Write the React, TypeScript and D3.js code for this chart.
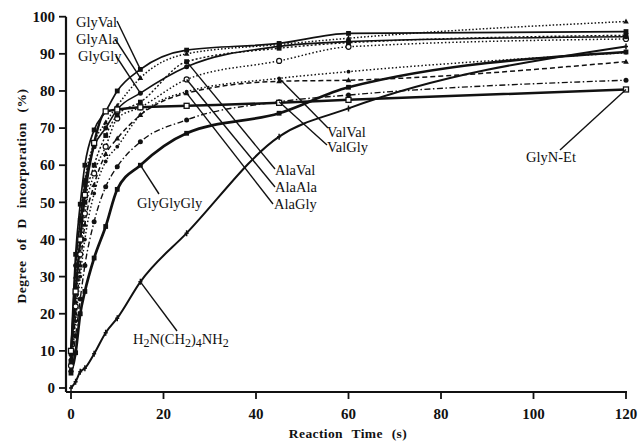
import React from "react";
import * as d3 from "d3";

const times = [0, 1, 2, 3, 5, 7.5, 10, 15, 25, 45, 60, 120];

const glyVal = [10, 36, 49.5, 60, 69.5, 74.5, 80, 85.8, 91, 92.8, 95.5, 96];
const glyAla = [8, 30, 46, 56, 66, 71.5, 76, 83.5, 90, 92.5, 94.2, 98.7];
const glyGly = [9, 33, 45, 55, 65, 70, 75, 79.4, 86.5, 92, 93.3, 94.6];
const alaVal = [7, 26, 40, 50, 60, 68, 73.5, 77, 87.9, 91.5, 93, 95];
const alaAla = [6, 22, 36, 47, 57.8, 65, 72.6, 75.6, 83.1, 88.1, 91.9, 94];
const alaGly = [5, 20, 33, 44, 54.7, 63, 67.2, 73.5, 79.4, 82.6, 82.9, 87.9];
const valVal = [5, 18, 30, 40, 52.4, 61, 65, 73.5, 79.8, 83.4, 85.2, 90.3];
const valGly = [4.5, 14, 24, 33, 44.8, 54.2, 59.6, 66.3, 72.2, 77.1, 78.9, 82.9];
const glyNEt = [10, 26, 40, 52, 66, 74.5, 75, 75.6, 76, 76.8, 77.6, 80.4];
const glyGlyGly = [4, 9.5, 20, 26, 35, 43.5, 53.5, 60, 68.6, 74, 81, 90.5];
const diamine = [0, 1.7, 4.4, 5.3, 9.2, 14.9, 18.8, 28.6, 41.7, 67.7, 75.3, 92];

const xTicks = [0, 20, 40, 60, 80, 100, 120];
const yTicks = [0, 10, 20, 30, 40, 50, 60, 70, 80, 90, 100];

type Style = { w: number; dash?: string; marker: string };

const series: { name: string; values: number[]; style: Style }[] = [
  { name: "ValGly", values: valGly, style: { w: 1.4, dash: "6 2.5 1.5 2.5", marker: "dot" } },
  { name: "ValVal", values: valVal, style: { w: 1.5, dash: "1.5 2.2", marker: "smalldot" } },
  { name: "AlaGly", values: alaGly, style: { w: 1.5, dash: "5 3", marker: "tri" } },
  { name: "AlaAla", values: alaAla, style: { w: 1.5, dash: "1.5 2.2", marker: "ocircle" } },
  { name: "AlaVal", values: alaVal, style: { w: 1.4, dash: "2 2", marker: "square" } },
  { name: "GlyGly", values: glyGly, style: { w: 1.6, marker: "dot" } },
  { name: "GlyAla", values: glyAla, style: { w: 1.5, dash: "1.5 2", marker: "tri" } },
  { name: "GlyVal", values: glyVal, style: { w: 1.7, marker: "square" } },
  { name: "GlyN-Et", values: glyNEt, style: { w: 2.5, marker: "osquare" } },
  { name: "GlyGlyGly", values: glyGlyGly, style: { w: 2.7, marker: "square" } },
  { name: "H2N", values: diamine, style: { w: 2, marker: "tick" } },
];

type Ann = { series: string; idx: number; text: string; tx: number; ty: number; lx: number; ly: number };
const annotations: Ann[] = [
  { series: "GlyVal", idx: 7, text: "GlyVal", tx: 76, ty: 27, lx: 117, ly: 21 },
  { series: "GlyAla", idx: 7, text: "GlyAla", tx: 76, ty: 44, lx: 115, ly: 39 },
  { series: "GlyGly", idx: 7, text: "GlyGly", tx: 78, ty: 61, lx: 116, ly: 56 },
  { series: "GlyGlyGly", idx: 7, text: "GlyGlyGly", tx: 137, ty: 208, lx: 159, ly: 194 },
  { series: "ValVal", idx: 9, text: "ValVal", tx: 327, ty: 137, lx: 328, ly: 128 },
  { series: "ValGly", idx: 9, text: "ValGly", tx: 327, ty: 152, lx: 327, ly: 145 },
  { series: "AlaVal", idx: 8, text: "AlaVal", tx: 275, ty: 175, lx: 275, ly: 169 },
  { series: "AlaAla", idx: 8, text: "AlaAla", tx: 275, ty: 192, lx: 275, ly: 187 },
  { series: "AlaGly", idx: 8, text: "AlaGly", tx: 274, ty: 209, lx: 273, ly: 204 },
  { series: "GlyN-Et", idx: 11, text: "GlyN-Et", tx: 526, ty: 162, lx: 560, ly: 150 },
  { series: "H2N", idx: 7, text: "", tx: 133, ty: 344, lx: 177, ly: 331 },
];

const W = 638;
const H = 442;

function Marker({ kind, x, y }: { kind: string; x: number; y: number }) {
  switch (kind) {
    case "square":
      return <rect x={x - 2.4} y={y - 2.4} width={4.8} height={4.8} fill="#111" />;
    case "osquare":
      return <rect x={x - 2.5} y={y - 2.5} width={5} height={5} fill="#fff" stroke="#111" strokeWidth={1.3} />;
    case "dot":
      return <circle cx={x} cy={y} r={2.5} fill="#111" />;
    case "smalldot":
      return <circle cx={x} cy={y} r={1.9} fill="#111" />;
    case "ocircle":
      return <circle cx={x} cy={y} r={2.5} fill="#fff" stroke="#111" strokeWidth={1.2} />;
    case "tri":
      return <path d={`M${x},${y - 3}L${x + 2.8},${y + 2}L${x - 2.8},${y + 2}Z`} fill="#111" />;
    case "tick":
      return <path d={`M${x},${y - 3}V${y + 3}M${x - 2},${y}H${x + 2}`} stroke="#111" strokeWidth={1.5} />;
    default:
      return null;
  }
}

export default function App() {
  const x = d3.scaleLinear().domain([0, 120]).range([71, 626]);
  const y = d3.scaleLinear().domain([0, 100]).range([388, 16.7]);
  const line = d3
    .line<number>()
    .x((_, i) => x(times[i]))
    .y((d) => y(d))
    .curve(d3.curveMonotoneX);

  const axisX = 66;
  const axisY = 392;
  const byName = Object.fromEntries(series.map((s) => [s.name, s]));

  return (
    <svg
      width={W}
      height={H}
      viewBox={`0 0 ${W} ${H}`}
      style={{ position: "absolute", left: 0, top: 0, background: "#fff" }}
      fontFamily="'Liberation Serif', 'DejaVu Serif', serif"
    >
      <rect x={0} y={0} width={W} height={H} fill="#fff" />
      {/* axes */}
      <line x1={axisX} y1={y(100)} x2={axisX} y2={axisY} stroke="#111" strokeWidth={2.2} />
      <line x1={axisX} y1={axisY} x2={627} y2={axisY} stroke="#111" strokeWidth={2.2} />
      {yTicks.map((t) => (
        <g key={"y" + t}>
          <line x1={axisX - 7} x2={axisX} y1={y(t)} y2={y(t)} stroke="#111" strokeWidth={1.8} />
          <text x={axisX - 11} y={y(t)} dy="0.35em" textAnchor="end" fontSize={15} fontWeight="bold" fill="#111">
            {t}
          </text>
        </g>
      ))}
      {xTicks.map((t) => (
        <g key={"x" + t}>
          <line x1={x(t)} x2={x(t)} y1={axisY} y2={axisY + 7} stroke="#111" strokeWidth={1.8} />
          <text x={x(t)} y={419} textAnchor="middle" fontSize={15} fontWeight="bold" fill="#111">
            {t}
          </text>
        </g>
      ))}
      <text x={348} y={438} textAnchor="middle" fontSize={13.5} fontWeight="bold" fill="#111" style={{ wordSpacing: "5px", letterSpacing: "0.4px" }}>
        Reaction Time (s)
      </text>
      <text
        transform={`translate(21,${196}) rotate(-90)`}
        textAnchor="middle"
        dy="0.35em"
        fontSize={13.5}
        fontWeight="bold"
        fill="#111"
        style={{ wordSpacing: "6px", letterSpacing: "0.5px" }}
      >
        Degree of D incorporation (%)
      </text>

      {/* series lines */}
      {series.map((s) => (
        <path
          key={s.name}
          d={line(s.values) || ""}
          fill="none"
          stroke="#111"
          strokeWidth={s.style.w}
          strokeDasharray={s.style.dash}
        />
      ))}
      {series.map((s) =>
        s.values.map((v, i) => <Marker key={s.name + i} kind={s.style.marker} x={x(times[i])} y={y(v)} />)
      )}

      {/* annotations */}
      {annotations.map((a) => {
        const s = byName[a.series];
        const px = x(times[a.idx]);
        const py = y(s.values[a.idx]);
        return (
          <g key={a.series + "ann"}>
            <line x1={px} y1={py} x2={a.lx} y2={a.ly} stroke="#111" strokeWidth={1.4} />
            {a.text ? (
              <text x={a.tx} y={a.ty} fontSize={14.5} fill="#111">
                {a.text}
              </text>
            ) : (
              <text x={a.tx} y={a.ty} fontSize={14.5} fill="#111">
                H<tspan fontSize={12} dy={3}>2</tspan>
                <tspan dy={-3}>N(CH</tspan>
                <tspan fontSize={12} dy={3}>2</tspan>
                <tspan dy={-3}>)</tspan>
                <tspan fontSize={12} dy={3}>4</tspan>
                <tspan dy={-3}>NH</tspan>
                <tspan fontSize={12} dy={3}>2</tspan>
              </text>
            )}
          </g>
        );
      })}
    </svg>
  );
}
